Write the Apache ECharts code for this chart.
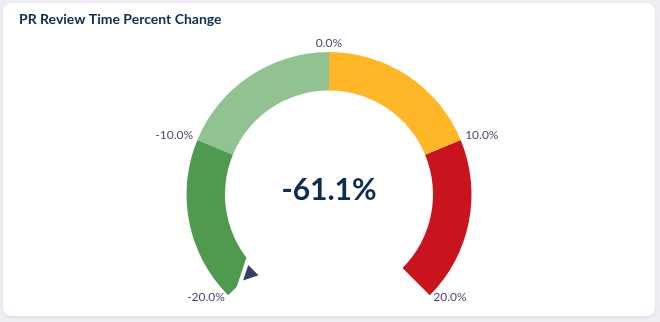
<!DOCTYPE html>
<html>
<head>
<meta charset="utf-8">
<script src="https://cdn.jsdelivr.net/npm/echarts@6/dist/echarts.min.js"></script>
<style>
  html, body { margin: 0; padding: 0; width: 660px; height: 322px; background: #efeef4; overflow: hidden; }
  #card { position: absolute; left: 3px; top: 3px; width: 652px; height: 313px; background: #ffffff;
          border-radius: 8px; box-shadow: 0 1px 3px rgba(60, 55, 100, 0.12); }
  #chart { position: absolute; left: 0; top: 0; width: 660px; height: 322px; }
</style>
</head>
<body>
<div id="card"></div>
<div id="chart"></div>
<script>
// Gauge range and reading
const gaugeMin = -20;
const gaugeMax = 20;
const gaugeSplits = 4;
const currentValue = -61.1;

// Colour bands: upper bound of each band and its colour
const bandBounds = [-10, 0, 10, 20];
const bandColors = ['#4f9a4f', '#91c392', '#ffb627', '#c9131f'];

const bands = bandBounds.map((b, i) => [(b - gaugeMin) / (gaugeMax - gaugeMin), bandColors[i]]);

const pct = v => v.toFixed(1) + '%';

// Tick labels sit outside the ring: pad the inner side by the text's own
// width so a centred label box puts the text just beyond the arc.
const labelFont = '12px Lato';
const labelColor = '#4c4772';
const ctx = document.createElement('canvas').getContext('2d');
ctx.font = labelFont;
const textW = s => Math.ceil(ctx.measureText(s).width);

const baseRich = { color: labelColor, fontFamily: 'Lato', fontSize: 12, lineHeight: 14 };

// rich style name for each tick value
const styleName = v => 't' + String(Math.round(v)).replace('-', 'm');

function labelText(v) {
  return '{' + styleName(v) + '|' + pct(v) + '}';
}

const richStyles = {};
for (let i = 0; i <= gaugeSplits; i++) {
  const v = gaugeMin + (gaugeMax - gaugeMin) * i / gaugeSplits;
  const w = textW(pct(v));
  const lift = Math.abs(v) === 0 ? 9 : (Math.abs(v) < gaugeMax ? 7 : 3);
  let pad;
  if (v < 0) pad = [0, w, lift, 0];
  else if (v > 0) pad = [0, 0, lift, w];
  else pad = [0, 0, lift, 0];
  richStyles[styleName(v)] = Object.assign({ padding: pad }, baseRich);
}

const chart = echarts.init(document.getElementById('chart'), null, { renderer: 'canvas' });

chart.setOption({
  animation: false,
  title: {
    text: 'PR Review Time Percent Change',
    left: 14,
    top: 7,
    textStyle: { fontFamily: 'Lato', fontSize: 14, fontWeight: 'bold', color: '#0e2d52' }
  },
  series: [{
    type: 'gauge',
    center: [329, 194.5],
    radius: 142.5,
    startAngle: 225,
    endAngle: -45,
    min: gaugeMin,
    max: gaugeMax,
    splitNumber: gaugeSplits,
    axisLine: { lineStyle: { width: 38.5, color: bands } },
    axisTick: { show: false },
    splitLine: { show: false, length: 0, distance: 0 },
    axisLabel: {
      distance: -4.5,
      rotate: 0.0001,
      fontFamily: 'Lato',
      fontSize: 12,
      color: labelColor,
      formatter: labelText,
      rich: richStyles
    },
    pointer: {
      icon: 'triangle',
      width: 21,
      length: 21,
      offsetCenter: [0, -105],
      itemStyle: { color: '#373f62', borderColor: '#ffffff', borderWidth: 4 }
    },
    anchor: { show: false },
    title: { show: false },
    detail: {
      offsetCenter: [0, -4],
      fontFamily: 'Lato',
      fontSize: 30,
      fontWeight: 'bold',
      color: '#0e2d52',
      formatter: pct
    },
    data: [{ value: currentValue }]
  }]
});
</script>
</body>
</html>
